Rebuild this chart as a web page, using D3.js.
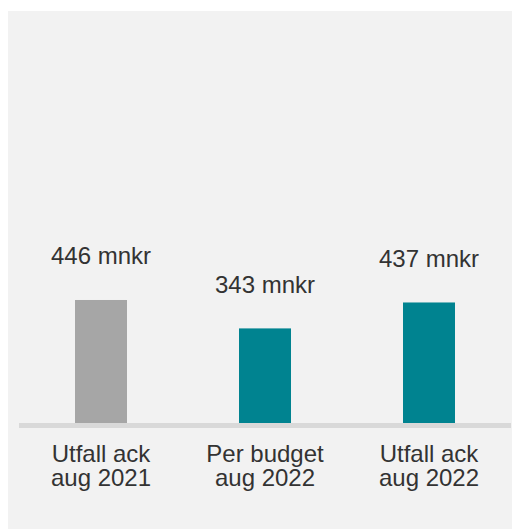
<!DOCTYPE html>
<html>
<head>
<meta charset="utf-8">
<script src="https://cdn.jsdelivr.net/npm/d3@7"></script>
<style>
  html, body { margin: 0; padding: 0; background: #ffffff; }
  svg { display: block; }
  text { font-family: "Liberation Sans", Arial, sans-serif; fill: #333333; }
</style>
</head>
<body>
<svg id="chart" width="513" height="529"></svg>
<script>
// Result vs budget, million SEK
const categories = ["Utfall ack\naug 2021", "Per budget\naug 2022", "Utfall ack\naug 2022"];
const values = [446, 343, 437];
const valueLabels = ["446 mnkr", "343 mnkr", "437 mnkr"];
const barColors = ["#a6a6a6", "#008390", "#008390"];

const svg = d3.select("#chart");

// background panel
svg.append("rect")
  .attr("x", 8).attr("y", 11)
  .attr("width", 504).attr("height", 518)
  .attr("fill", "#f2f2f2");

const baseline = 423;

const x = d3.scaleBand()
  .domain(categories)
  .range([19, 511])
  .paddingInner(0.683)
  .paddingOuter(0.3415);

const y = d3.scaleLinear()
  .domain([0, 1000])
  .range([baseline, baseline - 275.8]);

const data = categories.map((c, i) => ({ c, v: values[i], label: valueLabels[i], color: barColors[i] }));

// bars
svg.append("g").selectAll("rect")
  .data(data)
  .join("rect")
  .attr("x", d => x(d.c))
  .attr("y", d => y(d.v))
  .attr("width", x.bandwidth())
  .attr("height", d => y(0) - y(d.v))
  .attr("fill", d => d.color);

// category axis
const axis = svg.append("g")
  .attr("transform", `translate(0,${baseline})`)
  .call(d3.axisBottom(x).tickSize(0).tickFormat(""));
axis.select(".domain")
  .attr("stroke", "#d9d9d9")
  .attr("stroke-width", 5)
  .attr("d", "M19,2.5H511");

axis.selectAll(".tick").each(function(d) {
  const lines = d.split("\n");
  const t = d3.select(this).append("text")
    .attr("text-anchor", "middle")
    .attr("font-size", 24)
    .attr("stroke", "none");
  lines.forEach((ln, i) => {
    t.append("tspan")
      .attr("x", 0)
      .attr("y", 39 + i * 23.5)
      .text(ln);
  });
});

// value labels
svg.append("g").selectAll("text")
  .data(data)
  .join("text")
  .attr("x", d => x(d.c) + x.bandwidth() / 2)
  .attr("y", d => y(d.v) - 35.5)
  .attr("text-anchor", "middle")
  .attr("font-size", 24)
  .text(d => d.label);
</script>
</body>
</html>
